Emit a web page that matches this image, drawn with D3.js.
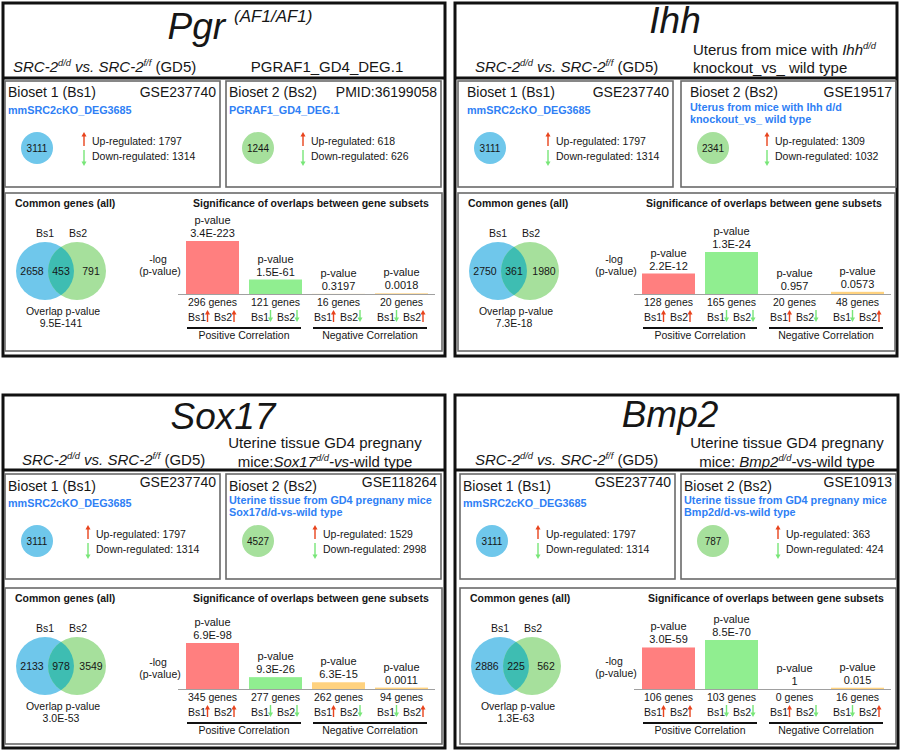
<!DOCTYPE html>
<html><head><meta charset="utf-8">
<script src="https://cdn.jsdelivr.net/npm/d3@7"></script>
<style>
body{margin:0;background:#fff}
svg{display:block}
text{font-family:"Liberation Sans",Arial,Helvetica,sans-serif;white-space:pre}
</style>
</head><body><svg id="c" width="900" height="750"></svg>
<script>
// ================= DATA =================
const geneTitles = ["Pgr", "Ihh", "Sox17", "Bmp2"];
const geneTitleSups = ["(AF1/AF1)", "", "", ""];

const bioset1Id = "GSE237740";
const bioset1Name = ["mmSRC2cKO_DEG3685"];
const bioset1Total = 3111;
const bioset1Up = 1797;
const bioset1Down = 1314;

const bioset2Ids = ["PMID:36199058", "GSE19517", "GSE118264", "GSE10913"];
const bioset2Names = [
  ["PGRAF1_GD4_DEG.1"],
  ["Uterus from mice with Ihh d/d", "knockout_vs_ wild type"],
  ["Uterine tissue from GD4 pregnany mice", "Sox17d/d-vs-wild type"],
  ["Uterine tissue from GD4 pregnany mice", "Bmp2d/d-vs-wild type"]
];
const bioset2Totals = [1244, 2341, 4527, 787];
const bioset2Up = [618, 1309, 1529, 363];
const bioset2Down = [626, 1032, 2998, 424];

// subtitles (rich text segments: it = italic, sup = superscript)
const bioset1Subtitle = [
  {t: "SRC-2", it: 1}, {t: "d/d", it: 1, sup: 1}, {t: " vs. ", it: 1},
  {t: "SRC-2", it: 1}, {t: "f/f", it: 1, sup: 1}, {t: " (GD5)"}
];
const bioset2Subtitles = [
  [[{t: "PGRAF1_GD4_DEG.1"}]],
  [[{t: "Uterus from mice with "}, {t: "Ihh", it: 1}, {t: "d/d", it: 1, sup: 1}],
   [{t: "knockout_vs_ wild type"}]],
  [[{t: "Uterine tissue GD4 pregnany"}],
   [{t: "mice:"}, {t: "Sox17", it: 1}, {t: "d/d", it: 1, sup: 1}, {t: "-vs-", it: 1}, {t: "wild type"}]],
  [[{t: "Uterine tissue GD4 pregnany"}],
   [{t: "mice: "}, {t: "Bmp2", it: 1}, {t: "d/d", it: 1, sup: 1}, {t: "-vs-wild type"}]]
];

// Venn of common genes
const vennBs1Only = [2658, 2750, 2133, 2886];
const vennShared = [453, 361, 978, 225];
const vennBs2Only = [791, 1980, 3549, 562];
const overlapPLabels = ["9.5E-141", "7.3E-18", "3.0E-53", "1.3E-63"];

// gene subset overlaps
const subsetKeys = ["upUp", "downDown", "upDown", "downUp"];
const subsetDirections = [["up", "up"], ["down", "down"], ["up", "down"], ["down", "up"]];
const subsetPValues = [
  [3.4e-223, 1.5e-61, 0.3197, 0.0018],
  [2.2e-12, 1.3e-24, 0.957, 0.0573],
  [6.9e-98, 9.3e-26, 6.3e-15, 0.0011],
  [3.0e-59, 8.5e-70, 1, 0.015]
];
const subsetPLabels = [
  ["3.4E-223", "1.5E-61", "0.3197", "0.0018"],
  ["2.2E-12", "1.3E-24", "0.957", "0.0573"],
  ["6.9E-98", "9.3E-26", "6.3E-15", "0.0011"],
  ["3.0E-59", "8.5E-70", "1", "0.015"]
];
const subsetGeneCounts = [
  [296, 121, 16, 20],
  [128, 165, 20, 48],
  [345, 277, 262, 94],
  [106, 103, 0, 16]
];
const correlationLabels = ["Positive Correlation", "Negative Correlation"];

// ================= LAYOUT =================
const panelX = [3, 455, 3, 455], panelY = [3, 3, 395, 395], panelW = [442, 442, 442, 443], panelH = 353;
const titleCX = [240, 675, 223, 670], titleBaseY = [39, 33, 429, 427];
const sepDy = 75;
const leftSubX = [13, 475, 22, 475], leftSubY = [72, 72, 465, 465];
const rightSubX = [327, 693, 325, 787], rightSubAnchor = ["middle", "start", "middle", "middle"];
const rightSubY = [[72], [55, 73], [448, 467], [448, 467]];
const bsBoxX = [[5, 226], [458, 681], [5, 226], [460, 681]], bsBoxY = [81, 81, 474, 474];
const bsBoxW = 215, bsBoxH = [106, 106, 105, 105];
const headDx = [3, 9, 3, 3], headDy = [16, 16, 17, 17], idDy = [16, 16, 13, 13];
const arrowDx = [[79, 77], [90, 86], [83, 89], [78, 97]];
const lowX = [5, 458, 5, 460], lowY = [193, 193, 588, 588], lowW = [437, 437, 437, 436], lowH = [158, 158, 156, 156];
const barX0 = [181, 637, 181, 637], barMaxH = [53, 42, 46, 49], logDy = [31, 31, 23, 24];

const INK = "#161616", BLUE_TXT = "#2f7ff5", RED = "#e8431c", GREEN = "#78e678";
const CIRC_BLUE = "#6fc7eb", CIRC_GREEN = "#a6e09c", OVERLAP = "#3ebdb2";
const barColors = {upUp: "#ff7f7f", downDown: "#90ee90", upDown: "#ffd27f", downUp: "#ffd27f"};

const svg = d3.select("#c");

function rich(textSel, segs, size) {
  let shift = 0;
  segs.forEach(s => {
    const target = s.sup ? -size * 0.42 : 0;
    const ts = textSel.append("tspan").text(s.t)
      .attr("font-size", s.sup ? size * 0.62 : size)
      .attr("font-style", s.it ? "italic" : "normal");
    if (target !== shift) { ts.attr("dy", target - shift); shift = target; }
  });
}

function arrow(g, x, yTop, yBot, dir) {
  const col = dir === "up" ? RED : GREEN;
  const head = 4.5, hw = 2.5;
  if (dir === "up") {
    g.append("line").attr("x1", x).attr("x2", x).attr("y1", yTop + head - 0.5).attr("y2", yBot)
      .attr("stroke", col).attr("stroke-width", 1.4);
    g.append("path").attr("d", `M${x - hw},${yTop + head}L${x + hw},${yTop + head}L${x},${yTop}Z`).attr("fill", col);
  } else {
    g.append("line").attr("x1", x).attr("x2", x).attr("y1", yTop).attr("y2", yBot - head + 0.5)
      .attr("stroke", col).attr("stroke-width", 1.4);
    g.append("path").attr("d", `M${x - hw},${yBot - head}L${x + hw},${yBot - head}L${x},${yBot}Z`).attr("fill", col);
  }
}

function txt(g, x, y, s, size, opts = {}) {
  return g.append("text").attr("x", x).attr("y", y).text(s)
    .attr("font-size", size).attr("fill", opts.fill || INK)
    .attr("font-weight", opts.bold ? "bold" : "normal")
    .attr("font-style", opts.it ? "italic" : "normal")
    .attr("text-anchor", opts.anchor || "start");
}

const defs = svg.append("defs");

geneTitles.forEach((title, p) => {
  const g = svg.append("g");
  const px = panelX[p], py = panelY[p], pw = panelW[p];

  // outer frame + title separator
  g.append("rect").attr("x", px).attr("y", py).attr("width", pw).attr("height", panelH)
    .attr("fill", "none").attr("stroke", "#111").attr("stroke-width", 3);
  g.append("line").attr("x1", px).attr("x2", px + pw).attr("y1", py + sepDy).attr("y2", py + sepDy)
    .attr("stroke", "#111").attr("stroke-width", 3);

  // title
  const t = g.append("text").attr("x", titleCX[p]).attr("y", titleBaseY[p]).attr("text-anchor", "middle")
    .attr("fill", INK).attr("font-style", "italic");
  t.append("tspan").text(title).attr("font-size", 37);
  if (geneTitleSups[p]) {
    t.append("tspan").text(geneTitleSups[p]).attr("font-size", 17).attr("dx", 9).attr("dy", -17);
  }

  // subtitles
  rich(g.append("text").attr("x", leftSubX[p]).attr("y", leftSubY[p]).attr("fill", INK), bioset1Subtitle, 15);
  bioset2Subtitles[p].forEach((line, i) => {
    rich(g.append("text").attr("x", rightSubX[p]).attr("y", rightSubY[p][i])
      .attr("text-anchor", rightSubAnchor[p]).attr("fill", INK), line, 15);
  });

  // bioset boxes
  const bs = [
    {head: "Bioset 1 (Bs1)", id: bioset1Id, name: bioset1Name, total: bioset1Total, up: bioset1Up, down: bioset1Down, col: CIRC_BLUE},
    {head: "Bioset 2 (Bs2)", id: bioset2Ids[p], name: bioset2Names[p], total: bioset2Totals[p], up: bioset2Up[p], down: bioset2Down[p], col: CIRC_GREEN}
  ];
  bs.forEach((b, k) => {
    const bx = bsBoxX[p][k], by = bsBoxY[p];
    g.append("rect").attr("x", bx).attr("y", by).attr("width", bsBoxW).attr("height", bsBoxH[p])
      .attr("fill", "none").attr("stroke", "#6a6a6a").attr("stroke-width", 1.6);
    txt(g, bx + headDx[p], by + headDy[p], b.head, 14);
    txt(g, bx + bsBoxW - 4, by + idDy[p], b.id, 14, {anchor: "end"});
    const nameY = b.name.length > 1 ? [30, 42] : [33];
    b.name.forEach((n, i) => txt(g, bx + headDx[p], by + nameY[i], n, 10.8, {bold: 1, fill: BLUE_TXT}));
    g.append("circle").attr("cx", bx + 32).attr("cy", by + 67).attr("r", 16).attr("fill", b.col);
    txt(g, bx + 32, by + 70.5, String(b.total), 10, {anchor: "middle"});
    const ax = bx + arrowDx[p][k];
    arrow(g, ax, by + 51, by + 65, "up");
    arrow(g, ax, by + 69, by + 85, "down");
    txt(g, ax + 8, by + 64, "Up-regulated: " + b.up, 10.5);
    txt(g, ax + 8, by + 79, "Down-regulated: " + b.down, 10.5);
  });

  // lower box
  const lx = lowX[p], ly = lowY[p];
  g.append("rect").attr("x", lx).attr("y", ly).attr("width", lowW[p]).attr("height", lowH[p])
    .attr("fill", "none").attr("stroke", "#6a6a6a").attr("stroke-width", 1.6);
  txt(g, lx + 10, ly + 14, "Common genes (all)", 10.5, {bold: 1});
  txt(g, lx + 188, ly + 14, "Significance of overlaps between gene subsets", 10.5, {bold: 1});

  // Venn
  const c1 = {x: lx + 40, y: ly + 78, r: 29}, c2 = {x: lx + 72, y: ly + 78, r: 29};
  g.append("circle").attr("cx", c1.x).attr("cy", c1.y).attr("r", c1.r).attr("fill", CIRC_BLUE);
  g.append("circle").attr("cx", c2.x).attr("cy", c2.y).attr("r", c2.r).attr("fill", CIRC_GREEN);
  const clipId = "clip" + p;
  defs.append("clipPath").attr("id", clipId).append("circle").attr("cx", c1.x).attr("cy", c1.y).attr("r", c1.r);
  g.append("circle").attr("cx", c2.x).attr("cy", c2.y).attr("r", c2.r).attr("fill", OVERLAP)
    .attr("clip-path", `url(#${clipId})`);
  txt(g, lx + 40, ly + 44, "Bs1", 10.5, {anchor: "middle"});
  txt(g, lx + 73, ly + 44, "Bs2", 10.5, {anchor: "middle"});
  txt(g, lx + 27, ly + 82, String(vennBs1Only[p]), 10.5, {anchor: "middle"});
  txt(g, lx + 56, ly + 82, String(vennShared[p]), 10.5, {anchor: "middle"});
  txt(g, lx + 86, ly + 82, String(vennBs2Only[p]), 10.5, {anchor: "middle"});
  txt(g, lx + 58, ly + 122, "Overlap p-value", 10.5, {anchor: "middle"});
  txt(g, lx + 56, ly + 134, overlapPLabels[p], 10.5, {anchor: "middle"});

  // bars
  const base = ly + 101;
  const negLog = subsetPValues[p].map(v => -Math.log10(v));
  const x = d3.scaleBand().domain(subsetKeys).range([barX0[p], barX0[p] + 252])
    .paddingInner(10 / 63).paddingOuter(5 / 63);
  const y = d3.scaleLinear().domain([0, d3.max(negLog)]).range([base, base - barMaxH[p]]);

  txt(g, barX0[p] - 23, base - logDy[p], "-log", 10.5, {anchor: "middle"});
  txt(g, barX0[p] - 21, base - logDy[p] + 11.5, "(p-value)", 10.5, {anchor: "middle"});

  subsetKeys.forEach((key, i) => {
    const v = negLog[i];
    const bx = x(key), bw = x.bandwidth(), cx = bx + bw / 2;
    g.append("rect").attr("x", bx).attr("y", y(v)).attr("width", bw).attr("height", Math.max(0, base - y(v)))
      .attr("fill", barColors[key]);
    txt(g, cx, y(v) - 17, "p-value", 11, {anchor: "middle"});
    txt(g, cx, y(v) - 4, subsetPLabels[p][i], 11, {anchor: "middle"});
    txt(g, cx, base + 12, subsetGeneCounts[p][i] + " genes", 10.5, {anchor: "middle"});
    txt(g, bx + 2, base + 27, "Bs1", 10.5);
    arrow(g, bx + 21.5, base + 16, base + 28, subsetDirections[i][0]);
    txt(g, bx + 28, base + 27, "Bs2", 10.5);
    arrow(g, bx + 48, base + 16, base + 28, subsetDirections[i][1]);
  });
  g.append("line").attr("x1", barX0[p] - 3).attr("x2", barX0[p] + 254).attr("y1", base + 0.5).attr("y2", base + 0.5)
    .attr("stroke", "#a0a0a0").attr("stroke-width", 1);

  [[0, 1], [2, 3]].forEach(([a, b], j) => {
    const x1 = x(subsetKeys[a]) + 1, x2 = x(subsetKeys[b]) + x.bandwidth() - 1;
    g.append("line").attr("x1", x1).attr("x2", x2).attr("y1", base + 34).attr("y2", base + 34)
      .attr("stroke", "#111").attr("stroke-width", 2);
    txt(g, (x1 + x2) / 2, base + 45, correlationLabels[j], 10.5, {anchor: "middle"});
  });
});
</script>
</body></html>
